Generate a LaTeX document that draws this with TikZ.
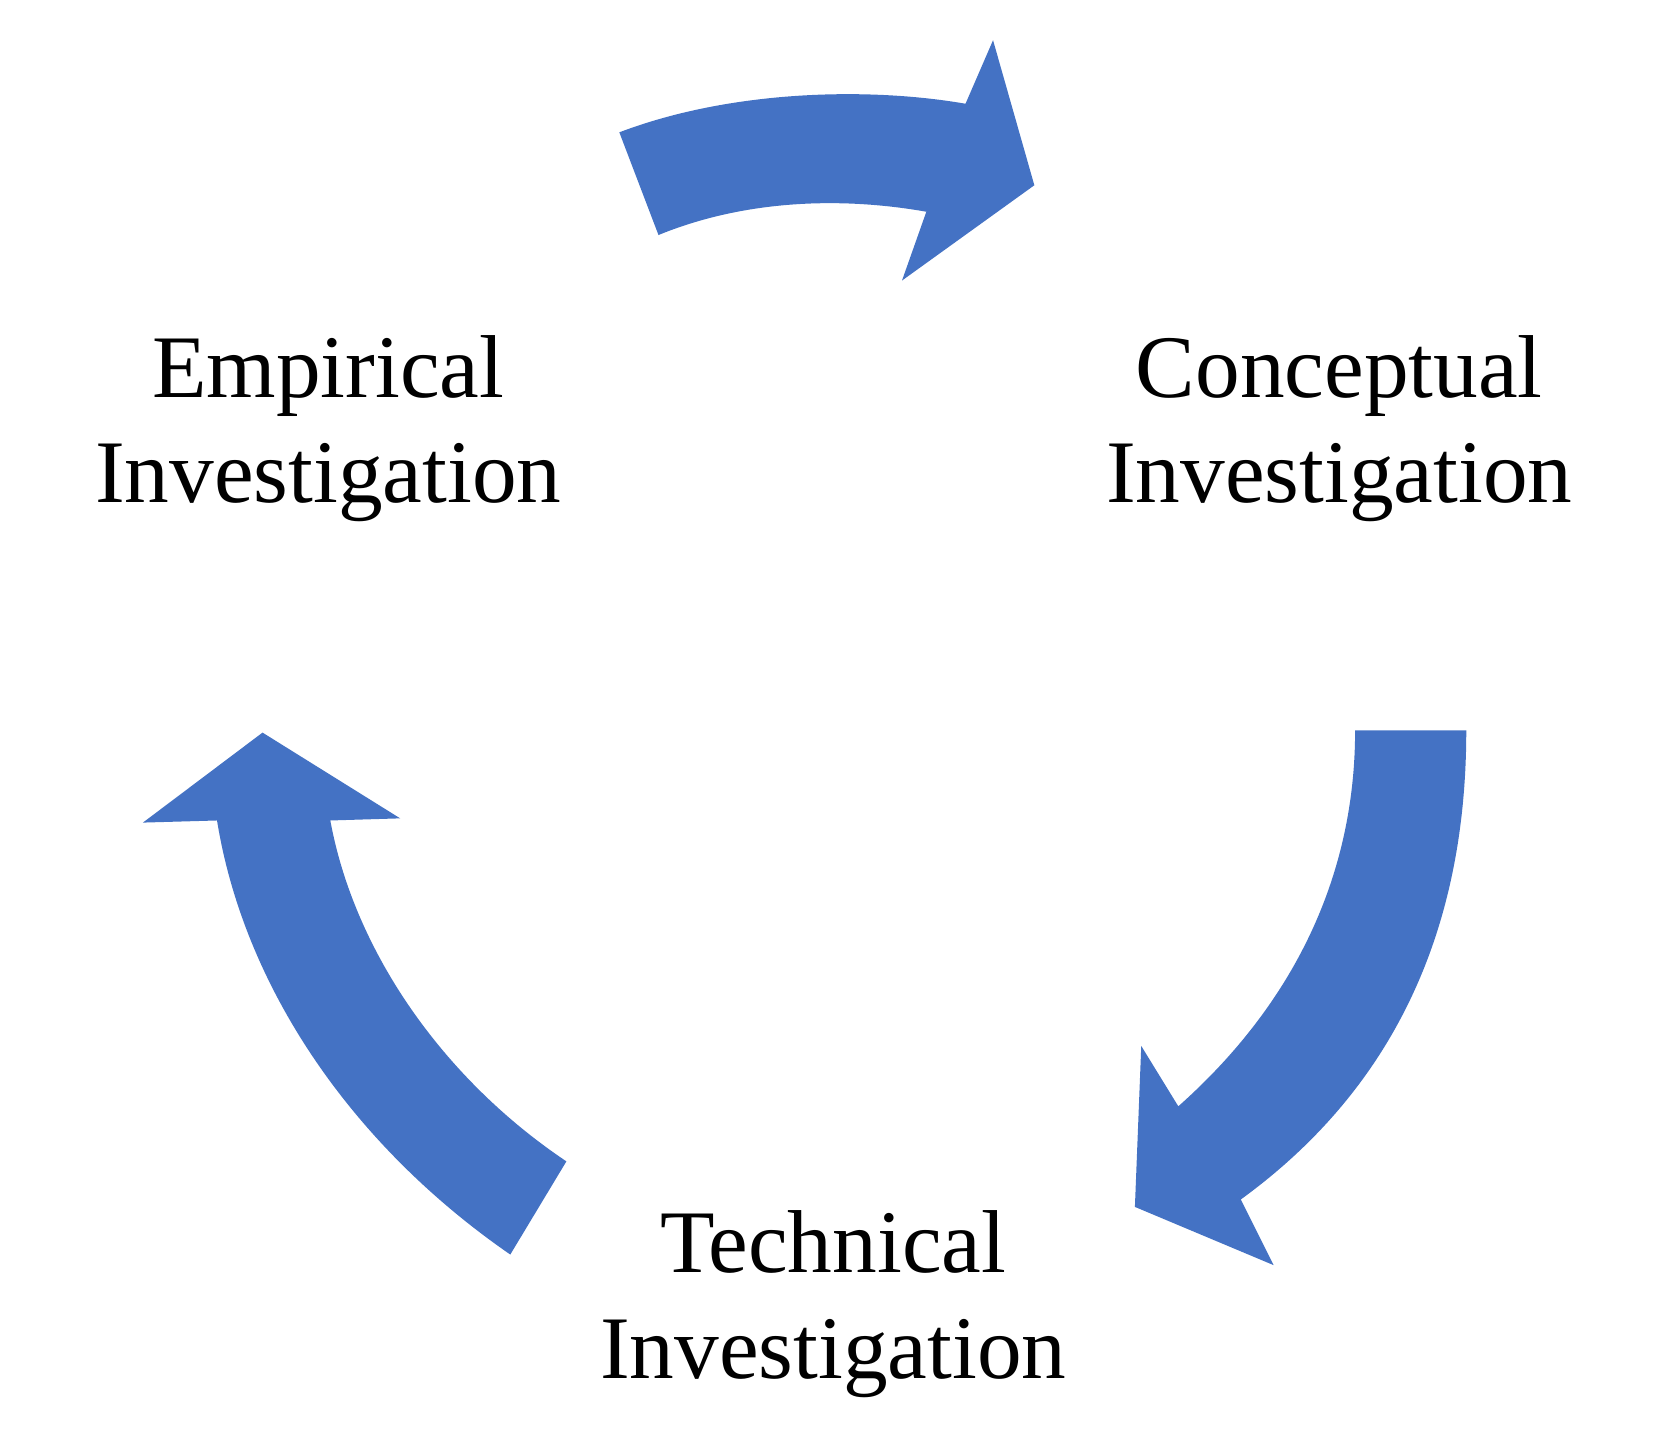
\documentclass[tikz,border=0pt]{standalone}
\usepackage{fontspec}
\setmainfont{Liberation Serif}
\definecolor{ablue}{HTML}{4472C4}
\begin{document}
\begin{tikzpicture}[x=0.5mm,y=-0.5mm,
  arr/.style={fill=ablue,draw=none},
  lab/.style={align=center,font=\fontsize{120}{142}\selectfont,inner sep=0pt}]
\useasboundingbox (0,0) rectangle (1568,1370);
\fill[white] (0,0) rectangle (1568,1370);
\path[arr] (585,125) .. controls (690,85) and (820,82) .. (912,98) -- (938,38) -- (977,175) -- (852,265) -- (875,200) .. controls (790,185) and (700,190) .. (622,222) -- cycle;
\path[arr] (1280,690) -- (1385,690) .. controls (1385,900) and (1300,1040) .. (1172,1133) -- (1203,1195) -- (1072,1140) -- (1078,988) -- (1113,1045) .. controls (1220,950) and (1280,830) .. (1280,690) -- cycle;
\path[arr] (535,1097) .. controls (420,1020) and (335,900) .. (312,775) -- (378,773) -- (248,692) -- (135,777) -- (205,775) .. controls (230,930) and (330,1080) .. (482,1185) -- cycle;
\node[lab] (emp) at (310,405) {Empirical\\Investigation};
\node[lab] (con) at (1265,405) {Conceptual\\Investigation};
\node[lab] (tec) at (787,1232) {Technical\\Investigation};
\end{tikzpicture}
\end{document}
